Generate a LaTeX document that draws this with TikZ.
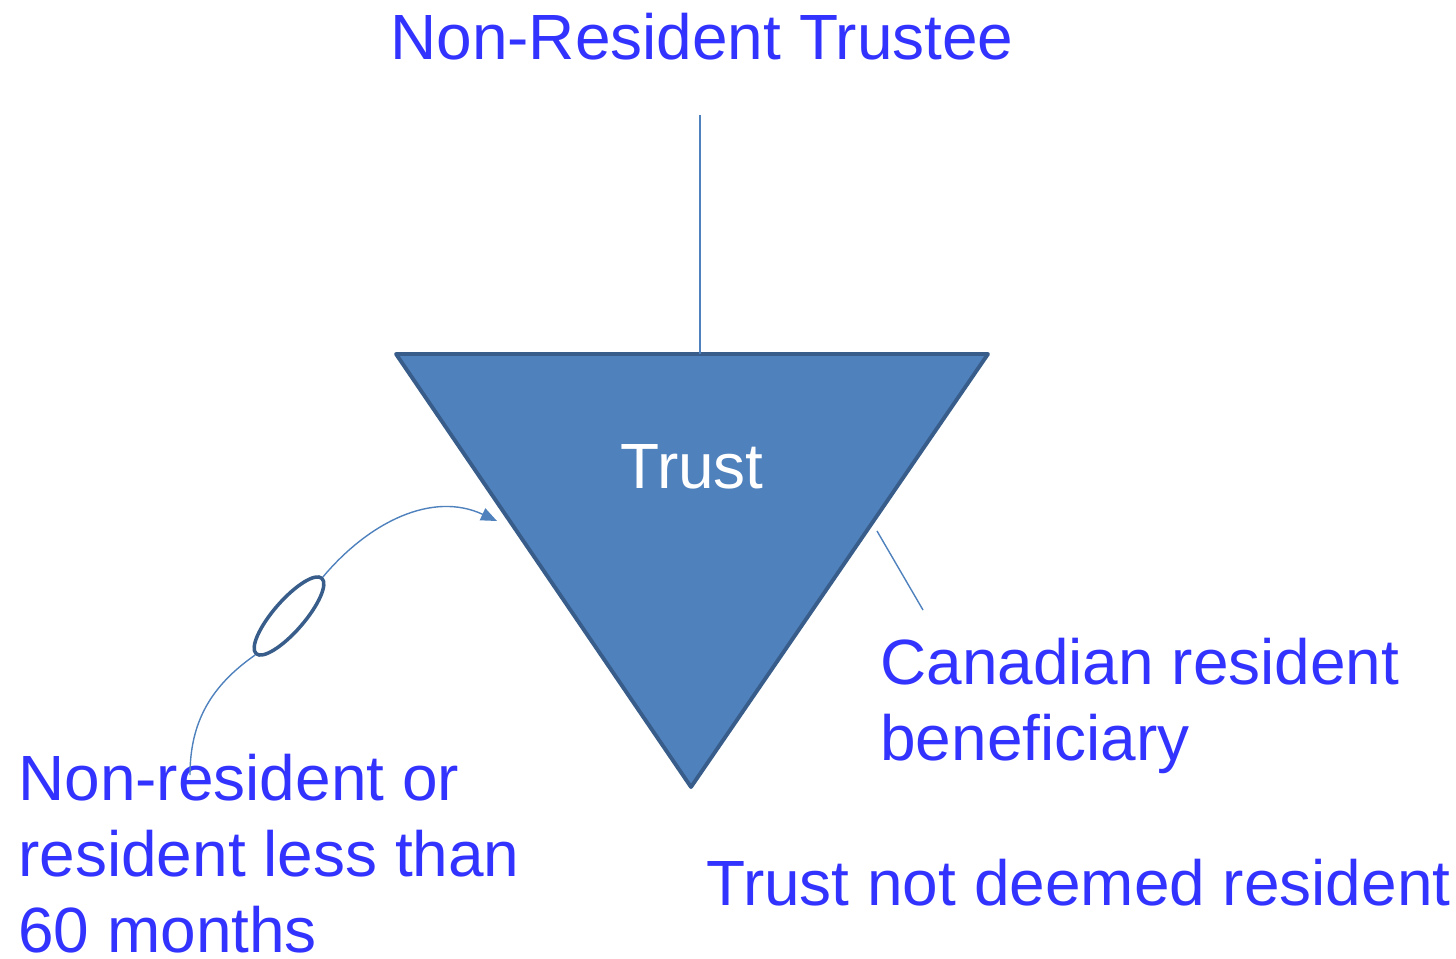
\documentclass[tikz,border=0pt]{standalone}
\usepackage{fontspec}
\setmainfont{Liberation Sans}
\usepackage{xcolor}
\usetikzlibrary{shapes.geometric}
\usetikzlibrary{arrows.meta}

\definecolor{labelblue}{RGB}{51,51,255}
\definecolor{trustfill}{RGB}{79,129,189}
\definecolor{trustedge}{RGB}{56,93,138}

\tikzset{
  bluetext/.style={text=labelblue, font=\fontsize{36.4}{43}\selectfont, inner sep=0pt, align=left, anchor=base west},
  link/.style={draw=trustfill, line width=0.8pt},
}

\begin{document}
\begin{tikzpicture}[x=0.02cm,y=0.02cm]
\useasboundingbox (0,0) rectangle (1456,958);
\coordinate (A) at (396,604);
\coordinate (B) at (988,604);
\coordinate (C) at (691,171);
\coordinate (AB) at (700,604);
\coordinate (T) at (700,843);
\coordinate (BC) at (877,427);
\coordinate (BCZ) at (923,348);
\coordinate (tip) at (497,437);
\coordinate (low) at (190,183);
% the trust itself
\draw[trustedge, fill=trustfill, line width=2.2pt, line join=round] (A)--(B)--(C)--cycle;
\node[text=white, font=\fontsize{36.4}{43}\selectfont, inner sep=0pt, anchor=base] (trust) at (692,470) {Trust};
% labels (multi-line ones sit on their last baseline)
\node[bluetext] (trustee) at (390,898) {Non-Resident Trustee};
\node[bluetext] (canres) at (880,198) {Canadian resident\\beneficiary};
\node[bluetext] (nonres) at (18,6) {Non-resident or\\resident less than\\60 months};
\node[bluetext] (notdeemed) at (706,53) {Trust not deemed resident};
% links
\draw[link] (T)--(AB);
\draw[link] (BC)--(BCZ);
\node[ellipse, draw=trustedge, line width=2pt, minimum width=2cm, minimum height=0.62cm, inner sep=0pt, rotate=49] (ring) at (289,342) {};
\draw[link, -{Triangle[length=0.32cm,width=0.26cm]}] (ring.east) to[out=50,in=155] (tip);
\draw[link] (ring.west) to[out=215,in=90] (low);
\end{tikzpicture}
\end{document}
